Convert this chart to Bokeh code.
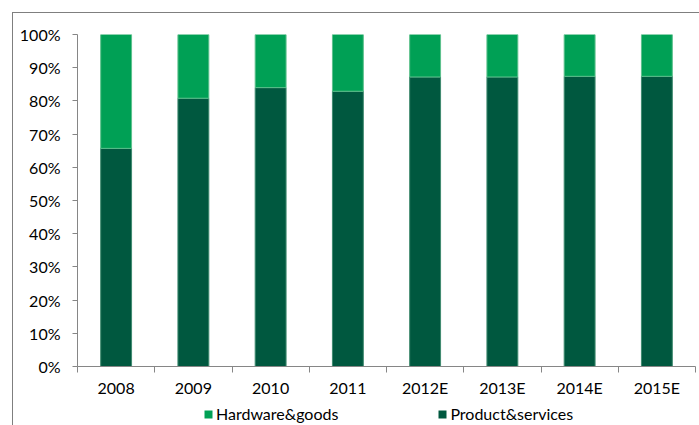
from bokeh.plotting import figure
from bokeh.layouts import column
from bokeh.models import (Range1d, FixedTicker, Legend, LegendItem, ColumnDataSource,
                          PrintfTickFormatter)
from bokeh.embed import file_html
from bokeh.resources import INLINE

categories = ["2008", "2009", "2010", "2011", "2012E", "2013E", "2014E", "2015E"]
product_services = [65.7, 80.8, 84.0, 82.9, 87.2, 87.2, 87.4, 87.4]
hardware_goods = [34.3, 19.2, 16.0, 17.1, 12.8, 12.8, 12.6, 12.6]
y_ticks = [0, 10, 20, 30, 40, 50, 60, 70, 80, 90, 100]
series_labels = ["Hardware&goods", "Product&services"]

DARK = "#00583F"
LIGHT = "#00A055"
GREY = "#868686"
BORDER = "1px solid #7f7f7f"
FONT = "Lato"
FS = "16px"

xs = [i + 0.5 for i in range(len(categories))]
src = ColumnDataSource(dict(x=xs, product=product_services, hardware=hardware_goods))

p = figure(width=687, height=390, x_range=Range1d(0, len(categories)), y_range=Range1d(0, 100),
           output_backend="svg", toolbar_location=None,
           min_border_left=64, min_border_right=4, min_border_top=21, min_border_bottom=37)
p.outline_line_color = None
p.xgrid.visible = False
p.ygrid.visible = False

rs = p.vbar_stack(["product", "hardware"], x="x", width=0.4, source=src,
                  fill_color=[DARK, LIGHT], line_color=["#3f8a6f", "#5cc08c"], line_width=1)

ya = p.yaxis[0]
ya.ticker = FixedTicker(ticks=y_ticks)
ya.formatter = PrintfTickFormatter(format="%d%%")
ya.major_tick_out = 5
ya.major_tick_in = 0
ya.minor_tick_line_color = None
ya.axis_line_color = GREY
ya.major_tick_line_color = GREY
ya.major_label_text_font = FONT
ya.major_label_text_font_size = FS
ya.major_label_text_color = "black"
ya.major_label_standoff = 12

xa = p.xaxis[0]
xa.ticker = FixedTicker(ticks=xs, minor_ticks=list(range(len(categories) + 1)))
xa.major_label_overrides = {x: c for x, c in zip(xs, categories)}
xa.major_tick_line_color = None
xa.major_tick_out = 0
xa.minor_tick_out = 6
xa.minor_tick_in = 0
xa.minor_tick_line_color = GREY
xa.axis_line_color = GREY
xa.major_label_text_font = FONT
xa.major_label_text_font_size = FS
xa.major_label_text_color = "black"
xa.major_label_standoff = 5

# legend strip below the chart
p2 = figure(width=687, height=23, x_range=Range1d(0, 1), y_range=Range1d(0, 1),
            output_backend="svg", toolbar_location=None,
            x_axis_location=None, y_axis_location=None,
            min_border_left=64, min_border_right=4, min_border_top=0, min_border_bottom=0)
p2.outline_line_color = None
p2.grid.visible = False
p2.background_fill_alpha = 0
p2.border_fill_alpha = 0
# zero-size glyphs that only serve as legend swatches
l1 = p2.vbar(x=[0.5], top=[0], bottom=[0], width=0, fill_color=LIGHT, line_color=None)
l2 = p2.vbar(x=[0.5], top=[0], bottom=[0], width=0, fill_color=DARK, line_color=None)
legend = Legend(items=[LegendItem(label=series_labels[0], renderers=[l1]),
                       LegendItem(label=series_labels[1], renderers=[l2])],
                orientation="horizontal", location=(126, 3), spacing=99,
                glyph_width=10, glyph_height=10, label_standoff=3, label_height=18,
                label_text_font=FONT, label_text_font_size=FS, label_text_color="black",
                padding=0, margin=0, border_line_color=None, background_fill_alpha=0)
p2.add_layout(legend, "center")

layout = column(p, p2, spacing=0, width=687, height=413, margin=(12, 0, 0, 12),
                styles={"border-left": BORDER, "border-top": BORDER})
open("out.html", "w").write(file_html(layout, INLINE))
